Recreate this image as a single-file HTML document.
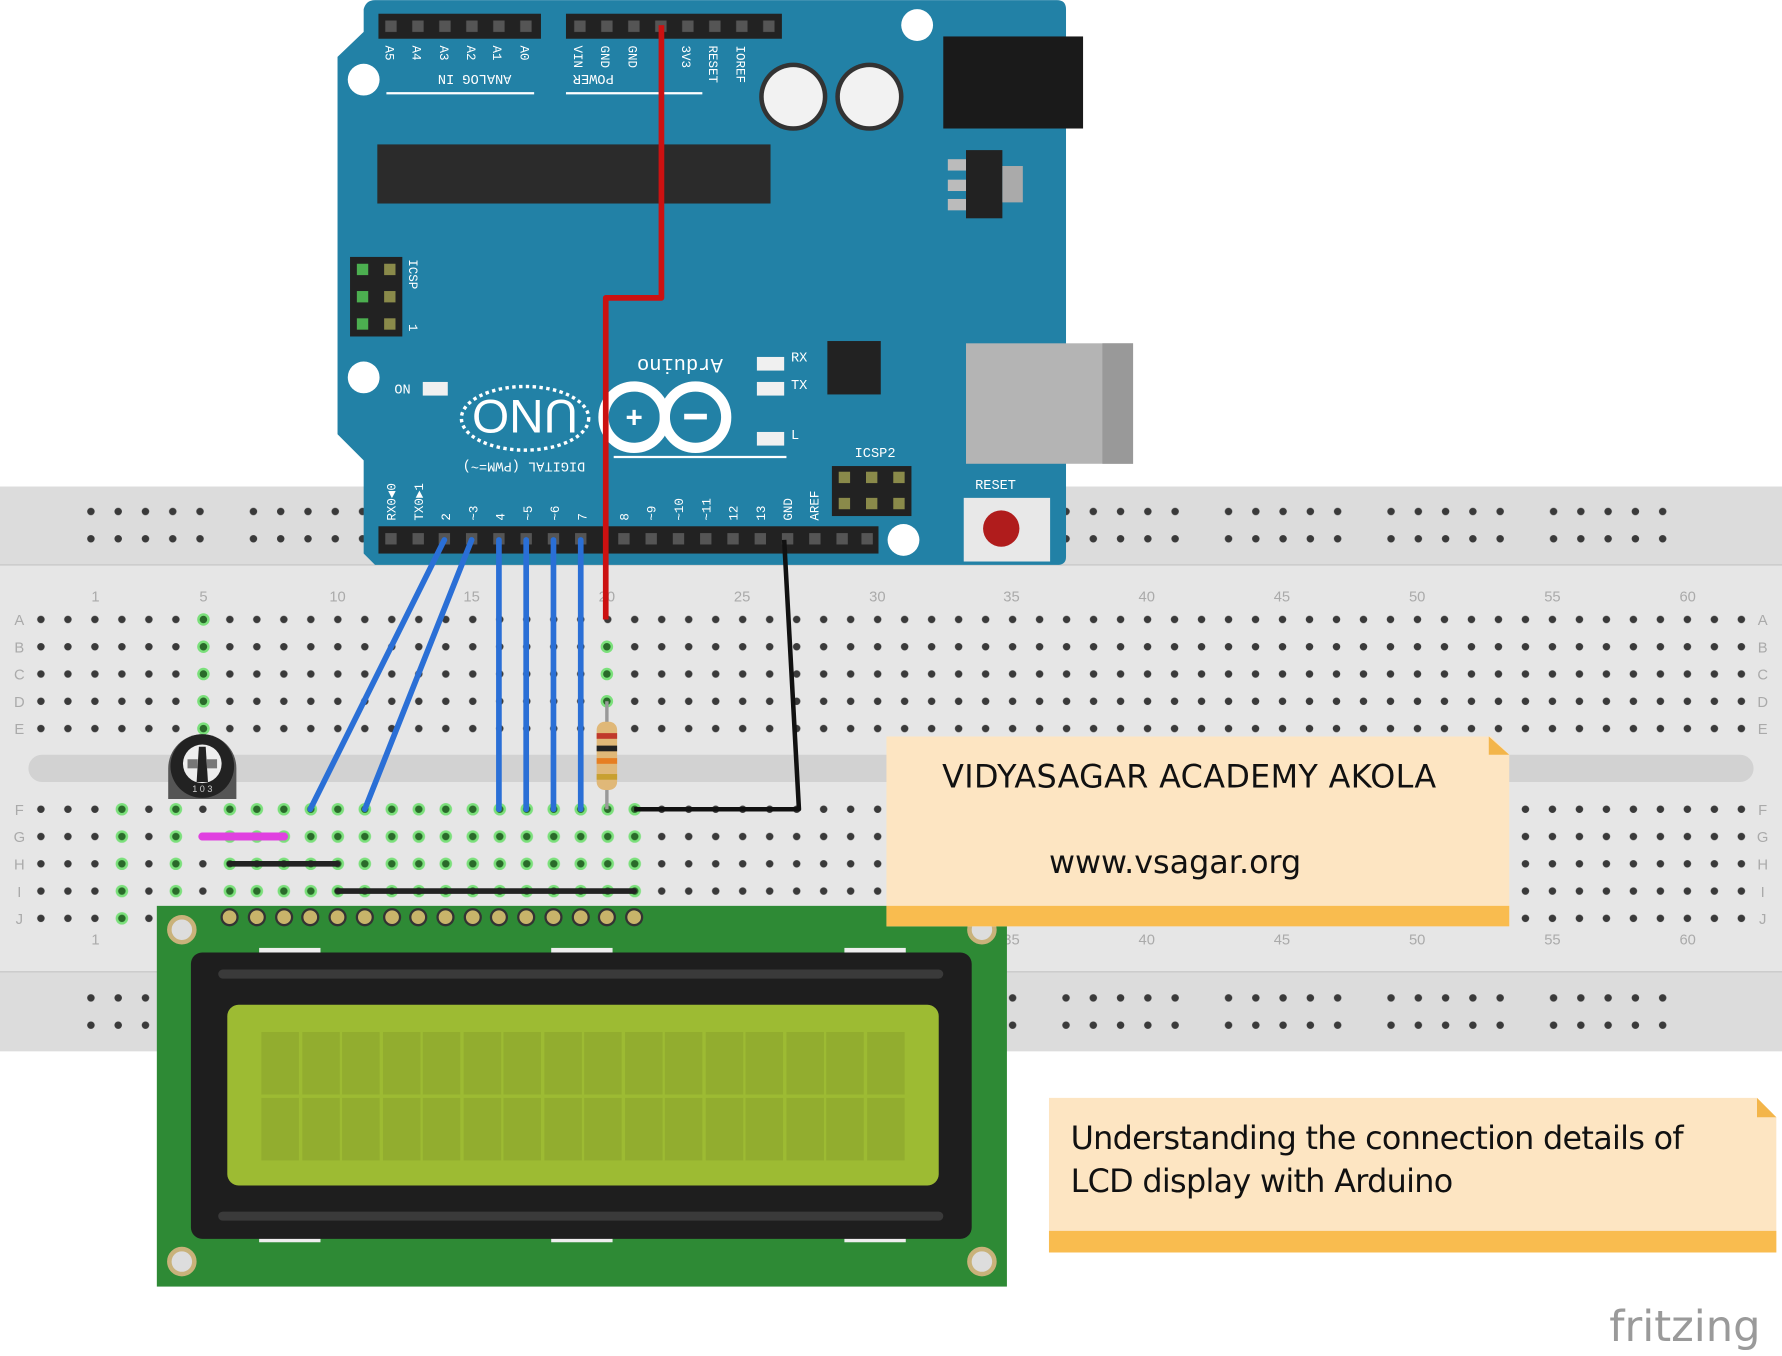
<!DOCTYPE html>
<html><head><meta charset="utf-8"><style>
html,body{margin:0;padding:0;background:#fff;width:1782px;height:1356px;overflow:hidden}
svg{display:block}
</style></head><body>
<svg width="1782" height="1356" viewBox="0 0 1568 1193" xmlns="http://www.w3.org/2000/svg" font-family="Liberation Sans, sans-serif">
<defs>
<pattern id="mh" x="24.125" y="533" width="23.75" height="24" patternUnits="userSpaceOnUse"><circle cx="11.875" cy="12" r="3.3" fill="#3a3a3a"/></pattern>
<pattern id="mh2" x="24.125" y="700" width="23.75" height="24" patternUnits="userSpaceOnUse"><circle cx="11.875" cy="12" r="3.3" fill="#3a3a3a"/></pattern>
<pattern id="gh" x="24.125" y="700" width="23.75" height="24" patternUnits="userSpaceOnUse"><circle cx="11.875" cy="12" r="5.5" fill="#7be07b"/><circle cx="11.875" cy="12" r="3.3" fill="#2a6a2a"/></pattern>
<pattern id="rh" x="74" y="438" width="143" height="24" patternUnits="userSpaceOnUse">
<g fill="#3a3a3a"><circle cx="6" cy="12" r="3.3"/><circle cx="30" cy="12" r="3.3"/><circle cx="54" cy="12" r="3.3"/><circle cx="78" cy="12" r="3.3"/><circle cx="102" cy="12" r="3.3"/></g></pattern>
<pattern id="rh2" x="74" y="866" width="143" height="24" patternUnits="userSpaceOnUse">
<g fill="#3a3a3a"><circle cx="6" cy="12" r="3.3"/><circle cx="30" cy="12" r="3.3"/><circle cx="54" cy="12" r="3.3"/><circle cx="78" cy="12" r="3.3"/><circle cx="102" cy="12" r="3.3"/></g></pattern>
<pattern id="hdr" x="333" y="12" width="23.75" height="22" patternUnits="userSpaceOnUse"><rect x="6" y="6" width="10" height="10" fill="#555"/></pattern>
</defs>
<!-- breadboard -->
<rect x="0" y="428" width="1568" height="497" fill="#dcdcdc"/>
<rect x="0" y="497" width="1568" height="358" fill="#e6e6e6"/>
<line x1="0" y1="497" x2="1568" y2="497" stroke="#c4c4c4"/>
<line x1="0" y1="855" x2="1568" y2="855" stroke="#c4c4c4"/>
<rect x="25" y="664" width="1518" height="24" rx="12" fill="#d2d2d2"/>
<rect x="74" y="438" width="1430" height="48" fill="url(#rh)"/>
<rect x="74" y="866" width="1430" height="48" fill="url(#rh2)"/>
<rect x="24" y="533" width="1520" height="120" fill="url(#mh)"/>
<rect x="24" y="700" width="1520" height="120" fill="url(#mh2)"/>
<!-- green F-J columns -->
<rect x="95.375" y="700" width="23.75" height="120" fill="url(#gh)"/>
<rect x="142.875" y="700" width="23.75" height="120" fill="url(#gh)"/>
<rect x="190.375" y="700" width="380" height="120" fill="url(#gh)"/>
<g font-size="13" fill="#aaa" text-anchor="middle">
<text x="84" y="529">1</text><text x="179" y="529">5</text><text x="297" y="529">10</text><text x="415" y="529">15</text><text x="534" y="529">20</text><text x="653" y="529">25</text><text x="772" y="529">30</text><text x="890" y="529">35</text><text x="1009" y="529">40</text><text x="1128" y="529">45</text><text x="1247" y="529">50</text><text x="1366" y="529">55</text><text x="1485" y="529">60</text>
<text x="84" y="831">1</text><text x="890" y="831">35</text><text x="1009" y="831">40</text><text x="1128" y="831">45</text><text x="1247" y="831">50</text><text x="1366" y="831">55</text><text x="1485" y="831">60</text>
<text x="17" y="550">A</text><text x="17" y="574">B</text><text x="17" y="598">C</text><text x="17" y="622">D</text><text x="17" y="646">E</text>
<text x="17" y="717">F</text><text x="17" y="741">G</text><text x="17" y="765">H</text><text x="17" y="789">I</text><text x="17" y="813">J</text>
<text x="1551" y="550">A</text><text x="1551" y="574">B</text><text x="1551" y="598">C</text><text x="1551" y="622">D</text><text x="1551" y="646">E</text>
<text x="1551" y="717">F</text><text x="1551" y="741">G</text><text x="1551" y="765">H</text><text x="1551" y="789">I</text><text x="1551" y="813">J</text>
</g>
<g fill="#7be07b">
<circle cx="179" cy="545" r="5.5"/><circle cx="179" cy="569" r="5.5"/><circle cx="179" cy="593" r="5.5"/><circle cx="179" cy="617" r="5.5"/><circle cx="179" cy="641" r="5.5"/>
<circle cx="534" cy="569" r="5.5"/><circle cx="534" cy="593" r="5.5"/><circle cx="534" cy="617" r="5.5"/>
</g>
<g fill="#2a6a2a">
<circle cx="179" cy="545" r="3.3"/><circle cx="179" cy="569" r="3.3"/><circle cx="179" cy="593" r="3.3"/><circle cx="179" cy="617" r="3.3"/><circle cx="179" cy="641" r="3.3"/>
<circle cx="534" cy="569" r="3.3"/><circle cx="534" cy="593" r="3.3"/><circle cx="534" cy="617" r="3.3"/>
</g>
<!-- Arduino -->
<path d="M330,0 L930,0 Q938,0 938,8 L938,490 Q938,497 930,497 L330,497 L320,487 L320,405 L297,382 L297,50 L320,28 L320,8 Q322,0 330,0Z" fill="#2281a6"/>
<rect x="333" y="12" width="143" height="22" fill="#222"/><rect x="333" y="12" width="143" height="22" fill="url(#hdr)"/>
<rect x="498" y="12" width="190" height="22" fill="#222"/><rect x="498" y="12" width="190" height="22" fill="url(#hdr)"/>
<rect x="333" y="463" width="440" height="24" fill="#222"/>
<g fill="#555"><rect x="339" y="469" width="10" height="10"/><rect x="363" y="469" width="10" height="10"/><rect x="386" y="469" width="10" height="10"/><rect x="410" y="469" width="10" height="10"/><rect x="434" y="469" width="10" height="10"/><rect x="458" y="469" width="10" height="10"/><rect x="482" y="469" width="10" height="10"/><rect x="506" y="469" width="10" height="10"/><rect x="544" y="469" width="10" height="10"/><rect x="568" y="469" width="10" height="10"/><rect x="592" y="469" width="10" height="10"/><rect x="616" y="469" width="10" height="10"/><rect x="640" y="469" width="10" height="10"/><rect x="664" y="469" width="10" height="10"/><rect x="688" y="469" width="10" height="10"/><rect x="712" y="469" width="10" height="10"/><rect x="736" y="469" width="10" height="10"/><rect x="758" y="469" width="10" height="10"/></g>
<rect x="332" y="127" width="346" height="52" fill="#2b2b2b"/>
<line x1="340" y1="82" x2="470" y2="82" stroke="#fff" stroke-width="2"/>
<line x1="498" y1="82" x2="618" y2="82" stroke="#fff" stroke-width="2"/>
<line x1="540" y1="402" x2="692" y2="402" stroke="#fff" stroke-width="2"/>
<g font-family="Liberation Mono, monospace" font-size="12" fill="#fff">
<text x="340" y="78" transform="rotate(180 395 72)">ANALOG IN</text>
<text x="500" y="78" transform="rotate(180 520 72)">POWER</text>
<text x="395" y="413" transform="rotate(180 455 410)">DIGITAL (PWM=~)</text>
<text x="696" y="318">RX</text><text x="696" y="342">TX</text><text x="696" y="386">L</text>
<text x="347" y="346">ON</text>
<text x="752" y="402">ICSP2</text><text x="858" y="430">RESET</text>
<text x="540" y="328" font-size="18" transform="rotate(180 588 322)">Arduino</text>
</g>
<!-- rotated pin labels -->
<g font-family="Liberation Mono, monospace" font-size="11" fill="#fff">
<text transform="translate(339,40) rotate(90)">A5</text><text transform="translate(363,40) rotate(90)">A4</text><text transform="translate(387,40) rotate(90)">A3</text><text transform="translate(411,40) rotate(90)">A2</text><text transform="translate(434,40) rotate(90)">A1</text><text transform="translate(458,40) rotate(90)">A0</text>
<text transform="translate(505,40) rotate(90)">VIN</text><text transform="translate(529,40) rotate(90)">GND</text><text transform="translate(553,40) rotate(90)">GND</text><text transform="translate(600,40) rotate(90)">3V3</text><text transform="translate(624,40) rotate(90)">RESET</text><text transform="translate(648,40) rotate(90)">IOREF</text>
<text transform="translate(348,458) rotate(-90)">RX0◄0</text><text transform="translate(372,458) rotate(-90)">TX0►1</text>
<text transform="translate(396,458) rotate(-90)">2</text><text transform="translate(420,458) rotate(-90)">~3</text><text transform="translate(444,458) rotate(-90)">4</text><text transform="translate(468,458) rotate(-90)">~5</text><text transform="translate(492,458) rotate(-90)">~6</text><text transform="translate(516,458) rotate(-90)">7</text>
<text transform="translate(553,458) rotate(-90)">8</text><text transform="translate(577,458) rotate(-90)">~9</text><text transform="translate(601,458) rotate(-90)">~10</text><text transform="translate(625,458) rotate(-90)">~11</text><text transform="translate(649,458) rotate(-90)">12</text><text transform="translate(673,458) rotate(-90)">13</text><text transform="translate(697,458) rotate(-90)">GND</text><text transform="translate(720,458) rotate(-90)">AREF</text>
<text transform="translate(360,228) rotate(90)">ICSP</text><text transform="translate(360,285) rotate(90)">1</text>
</g>
<ellipse cx="462" cy="368" rx="56" ry="28" fill="none" stroke="#fff" stroke-width="3" stroke-dasharray="3 3"/>
<text x="462" y="384" font-size="42" fill="#fff" text-anchor="middle" transform="rotate(180 462 368)">UNO</text>
<circle cx="558" cy="367" r="27" fill="none" stroke="#fff" stroke-width="9"/>
<circle cx="612" cy="367" r="27" fill="none" stroke="#fff" stroke-width="9"/>
<text x="558" y="376" font-size="26" font-weight="bold" fill="#fff" text-anchor="middle">+</text>
<rect x="602" y="364" width="20" height="5" fill="#fff"/>
<g fill="#f0f0f0"><rect x="666" y="314" width="24" height="12"/><rect x="666" y="336" width="24" height="12"/><rect x="666" y="380" width="24" height="12"/><rect x="372" y="336" width="22" height="12"/></g>
<rect x="728" y="300" width="47" height="47" fill="#222"/>
<circle cx="698" cy="85" r="30" fill="#333"/><circle cx="698" cy="85" r="26" fill="#f2f2f2"/>
<circle cx="765" cy="85" r="30" fill="#333"/><circle cx="765" cy="85" r="26" fill="#f2f2f2"/>
<rect x="830" y="32" width="123" height="81" fill="#1a1a1a"/>
<rect x="850" y="132" width="32" height="60" fill="#222"/><rect x="882" y="146" width="18" height="32" fill="#aaa"/>
<rect x="834" y="140" width="16" height="10" fill="#bbb"/><rect x="834" y="158" width="16" height="10" fill="#bbb"/><rect x="834" y="175" width="16" height="10" fill="#bbb"/>
<rect x="850" y="302" width="147" height="106" fill="#b4b4b4"/><rect x="970" y="302" width="27" height="106" fill="#999"/>
<rect x="848" y="438" width="76" height="56" fill="#e8e8e8"/><circle cx="881" cy="465" r="16" fill="#b01c1c"/>
<rect x="732" y="410" width="70" height="44" fill="#222"/>
<g fill="#8a8a4a"><rect x="738" y="415" width="10" height="10"/><rect x="762" y="415" width="10" height="10"/><rect x="786" y="415" width="10" height="10"/><rect x="738" y="438" width="10" height="10"/><rect x="762" y="438" width="10" height="10"/><rect x="786" y="438" width="10" height="10"/></g>
<rect x="308" y="226" width="46" height="70" fill="#222"/>
<g fill="#4caf50"><rect x="314" y="232" width="10" height="10"/><rect x="314" y="256" width="10" height="10"/><rect x="314" y="280" width="10" height="10"/></g>
<g fill="#8a8a4a"><rect x="338" y="232" width="10" height="10"/><rect x="338" y="256" width="10" height="10"/><rect x="338" y="280" width="10" height="10"/></g>
<g fill="#fff"><circle cx="807" cy="22" r="14"/><circle cx="320" cy="70" r="14"/><circle cx="320" cy="332" r="14"/><circle cx="795" cy="475" r="14"/></g>
<!-- LCD -->
<rect x="138" y="797" width="748" height="335" fill="#2e8a35"/>
<g fill="#c8b46a" stroke="#333" stroke-width="2">
<circle cx="202" cy="807" r="7"/><circle cx="226" cy="807" r="7"/><circle cx="250" cy="807" r="7"/><circle cx="273" cy="807" r="7"/><circle cx="297" cy="807" r="7"/><circle cx="321" cy="807" r="7"/><circle cx="345" cy="807" r="7"/><circle cx="368" cy="807" r="7"/><circle cx="392" cy="807" r="7"/><circle cx="416" cy="807" r="7"/><circle cx="439" cy="807" r="7"/><circle cx="463" cy="807" r="7"/><circle cx="487" cy="807" r="7"/><circle cx="511" cy="807" r="7"/><circle cx="534" cy="807" r="7"/><circle cx="558" cy="807" r="7"/></g>
<g fill="#ddd" stroke="#c9b27a" stroke-width="4"><circle cx="160" cy="818" r="11"/><circle cx="864" cy="818" r="11"/><circle cx="160" cy="1110" r="11"/><circle cx="864" cy="1110" r="11"/></g>
<g fill="#eee"><rect x="228" y="834" width="54" height="5"/><rect x="485" y="834" width="54" height="5"/><rect x="743" y="834" width="54" height="5"/><rect x="228" y="1088" width="54" height="5"/><rect x="485" y="1088" width="54" height="5"/><rect x="743" y="1088" width="54" height="5"/></g>
<rect x="168" y="838" width="687" height="252" rx="10" fill="#1e1e1e"/>
<rect x="192" y="853" width="638" height="8" rx="4" fill="#3a3a3a"/><rect x="192" y="1066" width="638" height="8" rx="4" fill="#3a3a3a"/>
<rect x="200" y="884" width="626" height="159" rx="10" fill="#9dbb33"/>
<g fill="#92ad2f">
<rect x="230" y="908" width="33" height="55"/><rect x="266" y="908" width="33" height="55"/><rect x="301" y="908" width="33" height="55"/><rect x="337" y="908" width="33" height="55"/><rect x="372" y="908" width="33" height="55"/><rect x="408" y="908" width="33" height="55"/><rect x="443" y="908" width="33" height="55"/><rect x="479" y="908" width="33" height="55"/><rect x="514" y="908" width="33" height="55"/><rect x="550" y="908" width="33" height="55"/><rect x="585" y="908" width="33" height="55"/><rect x="621" y="908" width="33" height="55"/><rect x="656" y="908" width="33" height="55"/><rect x="692" y="908" width="33" height="55"/><rect x="727" y="908" width="33" height="55"/><rect x="763" y="908" width="33" height="55"/>
<rect x="230" y="966" width="33" height="55"/><rect x="266" y="966" width="33" height="55"/><rect x="301" y="966" width="33" height="55"/><rect x="337" y="966" width="33" height="55"/><rect x="372" y="966" width="33" height="55"/><rect x="408" y="966" width="33" height="55"/><rect x="443" y="966" width="33" height="55"/><rect x="479" y="966" width="33" height="55"/><rect x="514" y="966" width="33" height="55"/><rect x="550" y="966" width="33" height="55"/><rect x="585" y="966" width="33" height="55"/><rect x="621" y="966" width="33" height="55"/><rect x="656" y="966" width="33" height="55"/><rect x="692" y="966" width="33" height="55"/><rect x="727" y="966" width="33" height="55"/><rect x="763" y="966" width="33" height="55"/></g>
<!-- pot -->
<path d="M148,703 L148,676 A30,30 0 0 1 208,676 L208,703Z" fill="#555"/>
<circle cx="178" cy="674" r="28" fill="#222"/><circle cx="178" cy="672" r="17" fill="#eee"/>
<path d="M175,657 L181,657 L183,688 L173,688Z" fill="#222"/>
<rect x="165" y="668" width="9" height="8" fill="#777"/><rect x="182" y="668" width="9" height="8" fill="#777"/>
<text x="178" y="697" font-size="8" fill="#ccc" text-anchor="middle">1 0 3</text>
<!-- resistor -->
<line x1="534" y1="617" x2="534" y2="712" stroke="#999" stroke-width="3"/>
<rect x="525" y="635" width="18" height="60" rx="7" fill="#e0b878"/>
<rect x="525" y="645" width="18" height="5" fill="#c0392b"/><rect x="525" y="656" width="18" height="5" fill="#222"/><rect x="525" y="667" width="18" height="5" fill="#e67e22"/><rect x="525" y="681" width="18" height="5" fill="#c8a030"/>
<!-- small wires -->
<line x1="178" y1="736" x2="250" y2="736" stroke="#e040e0" stroke-width="7" stroke-linecap="round"/>
<line x1="202" y1="760" x2="297" y2="760" stroke="#222" stroke-width="5" stroke-linecap="round"/>
<line x1="297" y1="784" x2="558" y2="784" stroke="#222" stroke-width="5" stroke-linecap="round"/>
<!-- main wires -->
<g stroke="#2a6fd6" stroke-width="5" stroke-linecap="round" fill="none">
<line x1="391" y1="475" x2="273" y2="712"/><line x1="415" y1="475" x2="321" y2="712"/>
<line x1="439" y1="475" x2="439" y2="712"/><line x1="463" y1="475" x2="463" y2="712"/><line x1="487" y1="475" x2="487" y2="712"/><line x1="511" y1="475" x2="511" y2="712"/></g>
<polyline points="582,22 582,262 533,262 533,545" fill="none" stroke="#cc1111" stroke-width="5" stroke-linejoin="round"/>
<polyline points="690,475 703,712 558,712" fill="none" stroke="#111" stroke-width="4" stroke-linejoin="round"/>
<!-- notes -->
<path d="M780,648 L1312,648 L1328,664 L1328,815 L780,815Z" fill="#fde5c2"/>
<rect x="780" y="797" width="548" height="18" fill="#f9bc4f"/>
<path d="M1310,648 L1328,664 L1310,664Z" fill="#f3b54a"/>
<g style="font-family:'DejaVu Sans',sans-serif;font-size:28px" fill="#111">
<text x="829" y="693" style="font-family:'DejaVu Sans',sans-serif;font-size:28px;letter-spacing:0.3px">VIDYASAGAR  ACADEMY  AKOLA</text>
<text x="923" y="768" style="font-family:'DejaVu Sans',sans-serif;font-size:28px">www.vsagar.org</text>
</g>
<path d="M923,966 L1546,966 L1563,983 L1563,1102 L923,1102Z" fill="#fde5c2"/>
<rect x="923" y="1083" width="640" height="19" fill="#f9bc4f"/>
<path d="M1546,966 L1563,983 L1546,983Z" fill="#f3b54a"/>
<text x="942" y="1011" style="font-family:'DejaVu Sans',sans-serif;font-size:28px;letter-spacing:-0.6px" fill="#111">Understanding the connection details of</text>
<text x="942" y="1049" style="font-family:'DejaVu Sans',sans-serif;font-size:28px;letter-spacing:-0.6px" fill="#111">LCD display with Arduino</text>
<text x="1416" y="1180" style="font-family:'DejaVu Sans',sans-serif;font-size:38px" fill="#9a9a9a">fritzing</text>
</svg>
</body></html>
